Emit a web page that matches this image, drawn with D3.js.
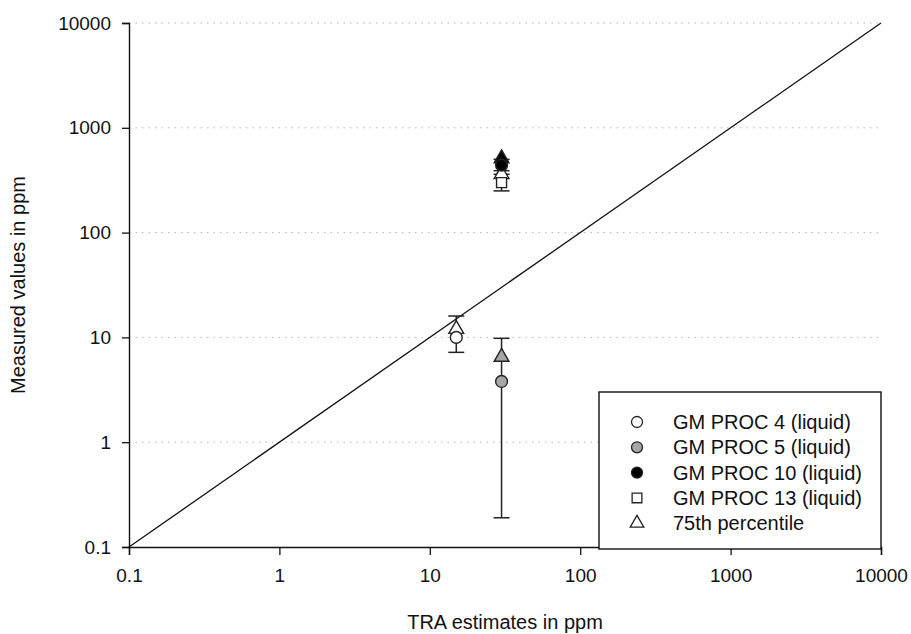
<!DOCTYPE html>
<html>
<head>
<meta charset="utf-8">
<script src="https://cdn.jsdelivr.net/npm/d3@7"></script>
<style>
  body { margin: 0; background: #fff; }
  svg { font-family: "Liberation Sans", Arial, sans-serif; }
</style>
</head>
<body>
<div id="chart"></div>
<script>
// process series (x = TRA estimate, gm = geometric mean, p75 = 75th percentile)
const series   = ['GM PROC 4 (liquid)', 'GM PROC 5 (liquid)', 'GM PROC 10 (liquid)', 'GM PROC 13 (liquid)'];
const shapes   = ['circle', 'circle', 'circle', 'square'];
const fills    = ['#ffffff', '#a6a6a6', '#000000', '#ffffff'];
const traX     = [15, 30, 30, 30];
const gmVals   = [10, 3.8, 440, 300];
const p75Vals  = [12, 6.5, 510, 360];
const errLow   = [7.2, 0.19, 390, 250];
const errHigh  = [16, 9.8, 500, 360];

const xTicks = [0.1, 1, 10, 100, 1000, 10000];
const yTicks = [0.1, 1, 10, 100, 1000, 10000];
const legendLabels = [...series, '75th percentile'];

const width = 911, height = 634;
const margin = { top: 23, right: 30, bottom: 87, left: 129 };

const svg = d3.select('#chart').append('svg')
  .attr('width', width)
  .attr('height', height);

const x = d3.scaleLog().domain([0.1, 10000]).range([margin.left, width - margin.right]);
const y = d3.scaleLog().domain([0.1, 10000]).range([height - margin.bottom, margin.top]);

const fmt = d => d < 1 ? d3.format('.1f')(d) : d3.format('d')(d);

// dotted grid
svg.append('g').selectAll('line')
  .data(yTicks.slice(1))
  .join('line')
  .attr('x1', x(0.1)).attr('x2', x(10000))
  .attr('y1', d => y(d)).attr('y2', d => y(d))
  .attr('stroke', '#b5b5b5')
  .attr('stroke-width', 1)
  .attr('stroke-dasharray', '1.5,5');

// 1:1 line
svg.append('line')
  .attr('x1', x(0.1)).attr('y1', y(0.1))
  .attr('x2', x(10000)).attr('y2', y(10000))
  .attr('stroke', '#111').attr('stroke-width', 1.3);

// axes
const xAxis = svg.append('g')
  .attr('transform', `translate(0,${y(0.1)})`)
  .call(d3.axisBottom(x).tickValues(xTicks).tickFormat(fmt).tickSize(8).tickPadding(14));
const yAxis = svg.append('g')
  .attr('transform', `translate(${x(0.1)},0)`)
  .call(d3.axisLeft(y).tickValues(yTicks).tickFormat(fmt).tickSize(7).tickPadding(11));
[xAxis, yAxis].forEach(a => {
  a.attr('font-size', null).attr('font-family', null);
  a.select('.domain').attr('stroke', '#111').attr('stroke-width', 1.4);
  a.selectAll('.tick line').attr('stroke', '#111').attr('stroke-width', 1.3);
  a.selectAll('.tick text').style('font-size', '19px').attr('fill', '#111');
});

// axis titles
svg.append('text')
  .attr('x', (x(0.1) + x(10000)) / 2).attr('y', 629)
  .attr('text-anchor', 'middle').style('font-size', '20px').attr('fill', '#111')
  .text('TRA estimates in ppm');
svg.append('text')
  .attr('transform', `translate(25,${(y(0.1) + y(10000)) / 2}) rotate(-90)`)
  .attr('text-anchor', 'middle').style('font-size', '20px').attr('fill', '#111')
  .text('Measured values in ppm');

// markers
const sym = {
  circle: d3.symbol().type(d3.symbolCircle).size(110),
  square: d3.symbol().type(d3.symbolSquare).size(100),
  triangle: d3.symbol().type(d3.symbolTriangle).size(95)
};
const rows = series.map((s, i) => ({
  name: s, shape: shapes[i], fill: fills[i], x: traX[i],
  gm: gmVals[i], p75: p75Vals[i], lo: errLow[i], hi: errHigh[i]
}));

const marks = svg.append('g');
const cap = 8;
rows.forEach(d => {
  const cx = x(d.x);
  const g = marks.append('g');
  g.append('line').attr('x1', cx).attr('x2', cx).attr('y1', y(d.lo)).attr('y2', y(d.hi));
  g.append('line').attr('x1', cx - cap).attr('x2', cx + cap).attr('y1', y(d.lo)).attr('y2', y(d.lo));
  g.append('line').attr('x1', cx - cap).attr('x2', cx + cap).attr('y1', y(d.hi)).attr('y2', y(d.hi));
  g.selectAll('line').attr('stroke', '#222').attr('stroke-width', 1.5);
});
rows.forEach(d => {
  marks.append('path')
    .attr('d', sym.triangle())
    .attr('transform', `translate(${x(d.x)},${y(d.p75)})`)
    .attr('fill', d.fill).attr('stroke', '#222').attr('stroke-width', 1.4);
});
rows.forEach(d => {
  marks.append('path')
    .attr('d', sym[d.shape]())
    .attr('transform', `translate(${x(d.x)},${y(d.gm)})`)
    .attr('fill', d.fill).attr('stroke', '#222').attr('stroke-width', 1.4);
});

// legend
const lg = svg.append('g').attr('transform', 'translate(599,392)');
lg.append('rect')
  .attr('width', x(10000) - 599).attr('height', y(0.1) - 392 + 2)
  .attr('fill', '#fff').attr('stroke', '#111').attr('stroke-width', 1.4);
const legShapes = [...shapes, 'triangle'];
const legFills = [...fills, '#ffffff'];
legendLabels.forEach((t, i) => {
  const yy = 30 + i * 25.3;
  lg.append('path')
    .attr('d', d3.symbol().type(legShapes[i] === 'circle' ? d3.symbolCircle
      : legShapes[i] === 'square' ? d3.symbolSquare : d3.symbolTriangle).size(legShapes[i] === 'triangle' ? 80 : 95)())
    .attr('transform', `translate(38,${yy})`)
    .attr('fill', legFills[i]).attr('stroke', '#222').attr('stroke-width', 1.3);
  lg.append('text')
    .attr('x', 74).attr('y', yy).attr('dy', '0.35em')
    .style('font-size', '20px').attr('fill', '#111')
    .text(t);
});
</script>
</body>
</html>
